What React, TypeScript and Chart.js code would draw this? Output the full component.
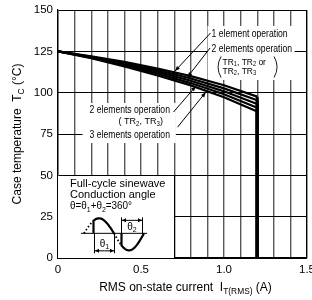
import React, { useEffect, useRef } from "react";
import { Chart, registerables } from "chart.js";

Chart.register(...registerables);

// ---- data ----
const currents = [0, 0.2, 0.4, 0.6, 0.8, 1.0, 1.2, 1.2];
const oneElement = [125, 122.0, 118.6, 114.6, 110.0, 104.5, 97.6, 0];
const twoElementsA = [125, 121.7, 117.9, 113.6, 108.6, 102.6, 95.4, 0];
const twoElementsB = [125, 121.4, 117.2, 112.6, 107.2, 100.8, 93.2, 0];
const twoElementsTR23 = [125, 121.1, 116.5, 111.5, 105.8, 99.0, 90.9, 0];
const threeElements = [125, 120.8, 115.8, 110.4, 104.4, 97.2, 88.6, 0];
const seriesNames = [
  "1 element operation",
  "2 elements operation (TR1, TR2 or TR2, TR3)",
  "2 elements operation (TR1, TR2 or TR2, TR3) b",
  "2 elements operation (TR2, TR3)",
  "3 elements operation",
];
const xTickLabels = ["0", "0.5", "1.0", "1.5"];
const xMin = 0;
const xMax = 1.5;
const yMin = 0;
const yMax = 150;

const FONT = "'Liberation Sans', Arial, Helvetica, sans-serif";
const GRID_GRAY = "#595959";

type Run = [string, number];

function runsWidth(ctx: CanvasRenderingContext2D, runs: Run[], size: number, subScale: number) {
  let w = 0;
  for (const [t, s] of runs) {
    ctx.font = `${s ? size * subScale : size}px ${FONT}`;
    w += ctx.measureText(t).width;
  }
  return w;
}

function drawRuns(
  ctx: CanvasRenderingContext2D,
  runs: Run[],
  x: number,
  y: number,
  size: number,
  align: "left" | "center",
  sx = 1,
  rot = 0,
  subScale = 0.7,
  subShift = 0.3
) {
  ctx.save();
  ctx.translate(x, y);
  if (rot) ctx.rotate(rot);
  ctx.scale(sx, 1);
  const w = runsWidth(ctx, runs, size, subScale);
  let cx = align === "center" ? -w / 2 : 0;
  ctx.textBaseline = "middle";
  ctx.textAlign = "left";
  ctx.fillStyle = "#000";
  for (const [t, s] of runs) {
    const fs = s ? size * subScale : size;
    ctx.font = `${fs}px ${FONT}`;
    ctx.fillText(t, cx, s ? size * subShift : 0);
    cx += ctx.measureText(t).width;
  }
  ctx.restore();
}

function arrow(ctx: CanvasRenderingContext2D, x1: number, y1: number, x2: number, y2: number, head = 5) {
  ctx.save();
  ctx.strokeStyle = "#000";
  ctx.fillStyle = "#000";
  ctx.lineWidth = 1;
  ctx.beginPath();
  ctx.moveTo(x1, y1);
  ctx.lineTo(x2, y2);
  ctx.stroke();
  const a = Math.atan2(y2 - y1, x2 - x1);
  ctx.beginPath();
  ctx.moveTo(x2, y2);
  ctx.lineTo(x2 - head * Math.cos(a) + 2 * Math.sin(a), y2 - head * Math.sin(a) - 2 * Math.cos(a));
  ctx.lineTo(x2 - head * Math.cos(a) - 2 * Math.sin(a), y2 - head * Math.sin(a) + 2 * Math.cos(a));
  ctx.closePath();
  ctx.fill();
  ctx.restore();
}

function yOnLine(chart: any, dsIndex: number, xPix: number) {
  const pts = chart.getDatasetMeta(dsIndex).data;
  for (let i = 0; i < pts.length - 1; i++) {
    const a = pts[i], b = pts[i + 1];
    if (xPix >= a.x && xPix <= b.x && b.x > a.x) {
      return a.y + ((xPix - a.x) / (b.x - a.x)) * (b.y - a.y);
    }
  }
  return pts[0].y;
}

const alignPx = (p: number) => Math.round(p - 0.5) + 0.5;

const annotationPlugin = {
  id: "annotations",
  beforeDatasetsDraw(chart: any) {
    const ctx: CanvasRenderingContext2D = chart.ctx;
    const xs = chart.scales.x;
    const ys = chart.scales.y;
    const SX = 0.82;
    const AS = 10.5;
    const PS = 9.8;

    // ---- right label block ----
    const rx = xs.getPixelForValue(0.925);
    const ry1 = ys.getPixelForValue(135.5);
    const ry2 = ys.getPixelForValue(126.4);
    ctx.save();
    ctx.fillStyle = "#fff";
    ctx.fillRect(rx - 4, ry1 - 8, xs.getPixelForValue(1.425) - (rx - 4), 54);
    ctx.restore();
    drawRuns(ctx, [["1 element operation", 0]], rx, ry1, AS, "left", SX);
    drawRuns(ctx, [["2 elements operation", 0]], rx, ry2, AS, "left", SX);
    const tx = rx + 11;
    drawRuns(ctx, [["TR", 0], ["1", 1], [", TR", 0], ["2", 1], [" or", 0]], tx, ry2 + 13.2, PS, "left", 0.86, 0, 0.68, 0.22);
    drawRuns(ctx, [["TR", 0], ["2", 1], [", TR", 0], ["3", 1]], tx, ry2 + 22.2, PS, "left", 0.86, 0, 0.68, 0.22);
    ctx.save();
    ctx.strokeStyle = "#000";
    ctx.lineWidth = 0.9;
    ctx.beginPath();
    ctx.moveTo(rx + 9.5, ry2 + 7.5);
    ctx.quadraticCurveTo(rx + 3.5, ry2 + 18, rx + 9.5, ry2 + 28.5);
    ctx.moveTo(rx + 62.5, ry2 + 7.5);
    ctx.quadraticCurveTo(rx + 68.5, ry2 + 18, rx + 62.5, ry2 + 28.5);
    ctx.stroke();
    ctx.restore();
    const t1x = xs.getPixelForValue(0.705);
    arrow(ctx, rx - 1, ry1 - 1, t1x, yOnLine(chart, 0, t1x) - 1.5);
    const t2x = xs.getPixelForValue(0.78);
    arrow(ctx, rx - 1.5, ry2 - 1, t2x, yOnLine(chart, 1, t2x) - 0.5);

    // ---- left label block ----
    const lx = xs.getPixelForValue(0.19);
    const ly1 = ys.getPixelForValue(89.5);
    const ly3 = ys.getPixelForValue(74.3);
    ctx.save();
    ctx.fillStyle = "#fff";
    ctx.fillRect(lx - 7, ly1 - 7, xs.getPixelForValue(0.71) - (lx - 7), 40);
    ctx.restore();
    drawRuns(ctx, [["2 elements operation", 0]], lx, ly1, AS, "left", SX);
    drawRuns(ctx, [["( TR", 0], ["2", 1], [", TR", 0], ["3", 1], [")", 0]], lx + 29, ly1 + 11.5, PS, "left", 0.92, 0, 0.68, 0.22);
    drawRuns(ctx, [["3 elements operation", 0]], lx, ly3, AS, "left", SX);
    const lend = lx + 84;
    const t3x = xs.getPixelForValue(0.83);
    arrow(ctx, lend, ly1 + 2, t3x, yOnLine(chart, 3, t3x) + 1.5);
    const t4x = xs.getPixelForValue(0.89);
    arrow(ctx, lend + 4, ly3 - 8, t4x, yOnLine(chart, 4, t4x) + 1.5);

    // ---- inset box ----
    const bx0 = xs.getPixelForValue(0);
    const by0 = ys.getPixelForValue(50);
    const bx1 = xs.getPixelForValue(0.7);
    const by1 = ys.getPixelForValue(0);
    ctx.save();
    ctx.fillStyle = "#fff";
    ctx.fillRect(bx0, by0, bx1 - bx0, by1 - by0);
    ctx.strokeStyle = "#000";
    ctx.lineWidth = 1;
    ctx.beginPath();
    ctx.moveTo(alignPx(bx0), alignPx(by0));
    ctx.lineTo(alignPx(bx1), alignPx(by0));
    ctx.lineTo(alignPx(bx1), by1);
    ctx.stroke();
    ctx.restore();
    drawRuns(ctx, [["Full-cycle sinewave", 0]], bx0 + 12, by0 + 8.5, 11, "left");
    drawRuns(ctx, [["Conduction angle", 0]], bx0 + 12, by0 + 20, 11, "left");
    drawRuns(
      ctx,
      [["\u03b8=\u03b8", 0], ["1", 1], ["+\u03b8", 0], ["2", 1], ["=360\u00b0", 0]],
      bx0 + 12,
      by0 + 31,
      11,
      "left",
      0.9
    );

    // sine sketch
    const ox = bx0;
    const oy = by0;
    const axisY = oy + 58;
    const pos = (x: number) => axisY - 15 * Math.sin((Math.PI * (x - 26)) / 30);
    const neg = (x: number) => axisY + 17 * Math.sin((Math.PI * (x - 56)) / 30);
    ctx.save();
    ctx.strokeStyle = "#000";
    ctx.lineWidth = 1;
    ctx.beginPath();
    ctx.moveTo(ox + 23, axisY);
    ctx.lineTo(ox + 89, axisY);
    ctx.stroke();
    ctx.lineWidth = 1.8;
    ctx.setLineDash([1.5, 2.2]);
    ctx.beginPath();
    ctx.moveTo(ox + 26, pos(26));
    for (let x = 26.5; x <= 35; x += 0.5) ctx.lineTo(ox + x, pos(x));
    ctx.moveTo(ox + 56, neg(56));
    for (let x = 56.5; x <= 63; x += 0.5) ctx.lineTo(ox + x, neg(x));
    ctx.stroke();
    ctx.setLineDash([]);
    ctx.lineWidth = 2.2;
    ctx.beginPath();
    ctx.moveTo(ox + 35.5, axisY);
    for (let x = 35.5; x <= 56; x += 0.5) ctx.lineTo(ox + x, pos(x));
    ctx.stroke();
    ctx.beginPath();
    ctx.moveTo(ox + 63.5, axisY);
    for (let x = 63.5; x <= 86; x += 0.5) ctx.lineTo(ox + x, neg(x));
    ctx.stroke();
    ctx.lineWidth = 1;
    ctx.beginPath();
    ctx.moveTo(ox + 36.5, axisY);
    ctx.lineTo(ox + 36.5, axisY + 20);
    ctx.moveTo(ox + 56.5, axisY);
    ctx.lineTo(ox + 56.5, axisY + 20);
    ctx.moveTo(ox + 63.5, axisY - 16);
    ctx.lineTo(ox + 63.5, axisY);
    ctx.moveTo(ox + 84.5, axisY - 16);
    ctx.lineTo(ox + 84.5, axisY);
    ctx.stroke();
    ctx.restore();
    const dbl = (xa: number, xb: number, y: number) => {
      arrow(ctx, (xa + xb) / 2, y, xa, y, 4);
      arrow(ctx, (xa + xb) / 2, y, xb, y, 4);
    };
    dbl(ox + 37, ox + 56, axisY + 17.5);
    dbl(ox + 64, ox + 84, axisY - 13);
    drawRuns(ctx, [["\u03b8", 0], ["1", 1]], ox + 46.5, axisY + 10.5, 10, "center");
    drawRuns(ctx, [["\u03b8", 0], ["2", 1]], ox + 74, axisY - 6, 10, "center");
  },
  afterDraw(chart: any) {
    const ctx: CanvasRenderingContext2D = chart.ctx;
    const ca = chart.chartArea;
    drawRuns(
      ctx,
      [["RMS on-state current  I", 0], ["T(RMS)", 1], [" (A)", 0]],
      (ca.left + ca.right) / 2 + 3,
      288,
      12,
      "center"
    );
    drawRuns(
      ctx,
      [["Case temperature  T", 0], ["C", 1], [" (\u00b0C)", 0]],
      18,
      (ca.top + ca.bottom) / 2,
      12,
      "center",
      1,
      -Math.PI / 2
    );
  },
};

export default function App() {
  const ref = useRef<HTMLCanvasElement | null>(null);
  useEffect(() => {
    if (!ref.current) return;
    const seriesValues = [oneElement, twoElementsA, twoElementsB, twoElementsTR23, threeElements];
    const chart = new Chart(ref.current, {
      type: "line",
      data: {
        datasets: seriesValues.map((vals, i) => ({
          label: seriesNames[i],
          data: currents.map((c, j) => ({ x: c, y: vals[j] })),
          borderColor: "#000",
          borderWidth: 2.2,
          pointRadius: 0,
          tension: 0,
          fill: false,
          segment: {
            borderWidth: (s: any) => (s.p0.parsed.x === s.p1.parsed.x ? 3 : 2.2),
          },
        })),
      },
      options: {
        animation: false,
        responsive: false,
        events: [],
        layout: { padding: { top: 10, right: 5, left: 0, bottom: 0 } },
        plugins: { legend: { display: false }, tooltip: { enabled: false } },
        scales: {
          x: {
            type: "linear",
            min: xMin,
            max: xMax,
            ticks: {
              stepSize: 0.1,
              autoSkip: false,
              maxRotation: 0,
              padding: 5,
              color: "#000",
              font: { size: 11.5, family: FONT },
              callback: (v: any) => {
                const r = Math.round(Number(v) * 10);
                return r % 5 === 0 ? xTickLabels[r / 5] : "";
              },
            },
            grid: {
              drawTicks: false,
              lineWidth: 1.4,
              color: (c: any) => {
                const v = c.tick ? c.tick.value : 0;
                return Math.abs(v) < 1e-6 || Math.abs(v - 1.5) < 1e-6 ? "#000" : GRID_GRAY;
              },
            },
            border: { display: true, color: "#000", width: 1.2 },
            afterFit: (s: any) => {
              s.height = 42;
              s.paddingLeft = 0;
              s.paddingRight = 0;
            },
          },
          y: {
            type: "linear",
            min: yMin,
            max: yMax,
            ticks: {
              stepSize: 25,
              padding: 5,
              color: "#000",
              font: { size: 11.5, family: FONT },
            },
            grid: { drawTicks: false, color: "#000", lineWidth: 1 },
            border: { display: true, color: "#000", width: 1.2 },
            afterFit: (s: any) => {
              s.width = 58;
              s.paddingTop = 0;
              s.paddingBottom = 0;
            },
          },
        },
      },
      plugins: [annotationPlugin],
    } as any);
    return () => chart.destroy();
  }, []);
  return (
    <div style={{ position: "absolute", left: 0, top: 0, width: 312, height: 300, background: "#fff" }}>
      <canvas ref={ref} width={312} height={300} style={{ width: 312, height: 300, display: "block" }} />
    </div>
  );
}
